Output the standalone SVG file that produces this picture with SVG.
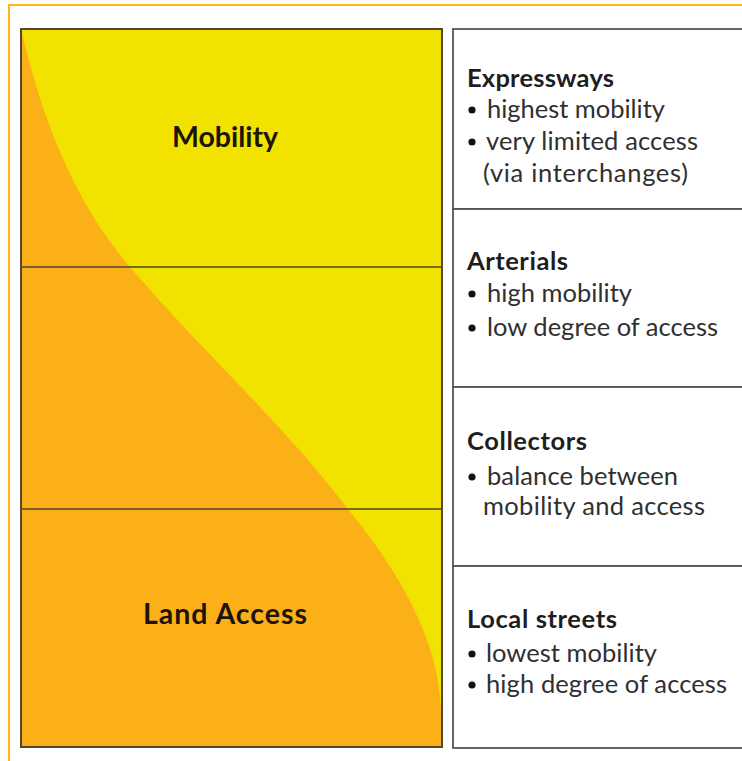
<svg xmlns="http://www.w3.org/2000/svg" width="742" height="761" viewBox="0 0 742 761">
  <style>
    .frame { fill: none; stroke: #fdbb12; stroke-width: 2; }
    .panel { fill: none; stroke: #54472c; stroke-width: 2; }
    .band { stroke: #4d4330; stroke-width: 1.5; }
    .box { fill: #ffffff; stroke: #555555; stroke-width: 1.8; }
    .big { font-family: Lato, "Liberation Sans", sans-serif; font-weight: 700; font-size: 28.5px; fill: #1c1409; }
    .head { font-family: Lato, "Liberation Sans", sans-serif; font-weight: 700; font-size: 25.5px; fill: #1e1e1e; }
    .item { font-family: Lato, "Liberation Sans", sans-serif; font-size: 25.5px; fill: #303030; }
    .dot { fill: #111111; }
  </style>

  <rect width="742" height="761" fill="#ffffff"/>

  <!-- outer frame -->
  <path class="frame" d="M9,770 V5 H750"/>

  <!-- mobility / access chart -->
  <g id="chart">
    <rect x="21" y="29" width="421" height="718" fill="#f1e200"/>
    <path fill="#fbb018" d="M21,29 C40,110 70,197 130,267 C198,347 288,429 348,509 C397,569 440,640 441,712 L441,747 L21,747 Z"/>
    <line class="band" x1="21" y1="267" x2="442" y2="267"/>
    <line class="band" x1="21" y1="509" x2="442" y2="509"/>
    <rect class="panel" x="21" y="29" width="421" height="718"/>
    <text class="big" x="172" y="147" textLength="106" lengthAdjust="spacing">Mobility</text>
    <text class="big" x="143" y="624" textLength="164" lengthAdjust="spacing">Land Access</text>
  </g>

  <!-- road classes -->
  <g id="expressways">
    <rect class="box" x="453" y="29" width="300" height="180"/>
    <text class="head" x="467" y="87" textLength="147" lengthAdjust="spacing">Expressways</text>
    <circle class="dot" cx="472" cy="110" r="3.6"/>
    <text class="item" x="487" y="118" textLength="178" lengthAdjust="spacing">highest mobility</text>
    <circle class="dot" cx="472" cy="142" r="3.6"/>
    <text class="item" x="486" y="150" textLength="212" lengthAdjust="spacing">very limited access</text>
    <text class="item" x="483" y="182" textLength="205" lengthAdjust="spacing">(via interchanges)</text>
  </g>

  <g id="arterials">
    <rect class="box" x="453" y="209" width="300" height="178"/>
    <text class="head" x="467" y="270" textLength="101" lengthAdjust="spacing">Arterials</text>
    <circle class="dot" cx="472" cy="294" r="3.6"/>
    <text class="item" x="487" y="302" textLength="145" lengthAdjust="spacing">high mobility</text>
    <circle class="dot" cx="472" cy="328" r="3.6"/>
    <text class="item" x="487" y="336" textLength="231" lengthAdjust="spacing">low degree of access</text>
  </g>

  <g id="collectors">
    <rect class="box" x="453" y="387" width="300" height="179"/>
    <text class="head" x="467" y="450" textLength="120" lengthAdjust="spacing">Collectors</text>
    <circle class="dot" cx="472" cy="477" r="3.6"/>
    <text class="item" x="487" y="485" textLength="191" lengthAdjust="spacing">balance between</text>
    <text class="item" x="483" y="515" textLength="222" lengthAdjust="spacing">mobility and access</text>
  </g>

  <g id="local-streets">
    <rect class="box" x="453" y="566" width="300" height="182"/>
    <text class="head" x="467" y="628" textLength="150" lengthAdjust="spacing">Local streets</text>
    <circle class="dot" cx="472" cy="654" r="3.6"/>
    <text class="item" x="486" y="662" textLength="171" lengthAdjust="spacing">lowest mobility</text>
    <circle class="dot" cx="472" cy="685" r="3.6"/>
    <text class="item" x="486" y="693" textLength="241" lengthAdjust="spacing">high degree of access</text>
  </g>
</svg>
